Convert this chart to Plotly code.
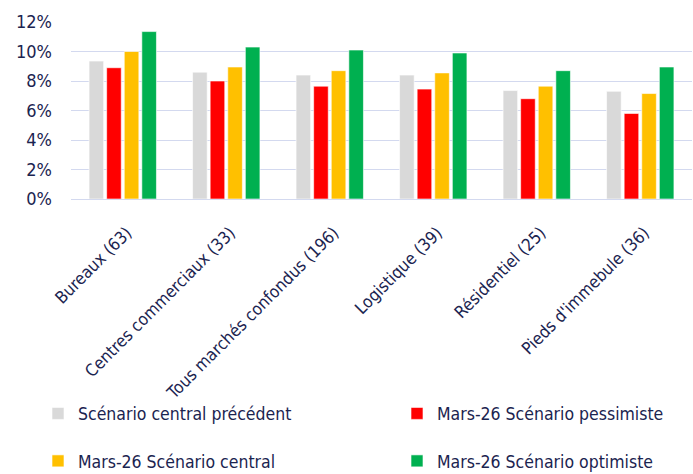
import plotly.graph_objects as go

categories = ["Bureaux (63)", "Centres commerciaux (33)", "Tous marchés confondus (196)",
              "Logistique (39)", "Résidentiel (25)", "Pieds d'immebule (36)"]
series_names = ["Scénario central précédent", "Mars-26 Scénario pessimiste",
                "Mars-26 Scénario central", "Mars-26 Scénario optimiste"]
prev_central = [9.35, 8.6, 8.4, 8.4, 7.35, 7.3]
pessimiste = [8.9, 8.0, 7.65, 7.45, 6.8, 5.8]
central = [10.0, 8.95, 8.7, 8.55, 7.65, 7.15]
optimiste = [11.35, 10.3, 10.1, 9.9, 8.7, 8.95]
y_ticks = [0, 2, 4, 6, 8, 10, 12]

colors = ["#D9D9D9", "#FF0000", "#FFC000", "#00B050"]
legends = ["legend", "legend2", "legend3", "legend4"]
TXT = "#1B2450"
FONT = "DejaVu Sans Condensed, Liberation Sans Narrow, sans-serif"

fig = go.Figure()
for name, vals, col, lg in zip(series_names, [prev_central, pessimiste, central, optimiste], colors, legends):
    fig.add_trace(go.Bar(x=categories, y=vals, name=name, legend=lg, showlegend=True,
                         marker=dict(color=col, line=dict(color="rgba(255,255,255,0.6)", width=1))))

W, H = 693, 474
# legend anchor positions in pixels: (left x, row center y)
leg_pos = {"legend": (38, 413.5), "legend2": (397, 413.5),
           "legend3": (38, 461), "legend4": (397, 461)}
leg_layout = {}
for k, (px, py) in leg_pos.items():
    leg_layout[k] = dict(orientation="h", xref="container", yref="container",
                         x=px / W, y=1 - py / H, xanchor="left", yanchor="middle",
                         font=dict(size=17.5, family=FONT, color=TXT),
                         bgcolor="rgba(0,0,0,0)")

fig.update_layout(
    width=W, height=H,
    margin=dict(l=71, r=1, t=22, b=275),
    paper_bgcolor="white", plot_bgcolor="white",
    barmode="group", bargap=0.32, bargroupgap=0.17,
    font=dict(family=FONT, color=TXT),
    showlegend=True,
    **leg_layout,
)
fig.update_yaxes(range=[0, 12], tickvals=y_ticks, ticktext=[f"{v}%" for v in y_ticks],
                 showgrid=True, gridcolor="#D3D9EF", gridwidth=1.3, zeroline=False,
                 showline=False, ticklabelstandoff=18,
                 tickfont=dict(size=18, family=FONT, color=TXT))
fig.update_xaxes(tickangle=-45, showline=True, linecolor="#D3D9EF", linewidth=1.3,
                 automargin=False, ticklabelstandoff=16, ticklabelshift=4,
                 tickfont=dict(size=17, family=FONT, color=TXT))

fig.write_html("out.html")
